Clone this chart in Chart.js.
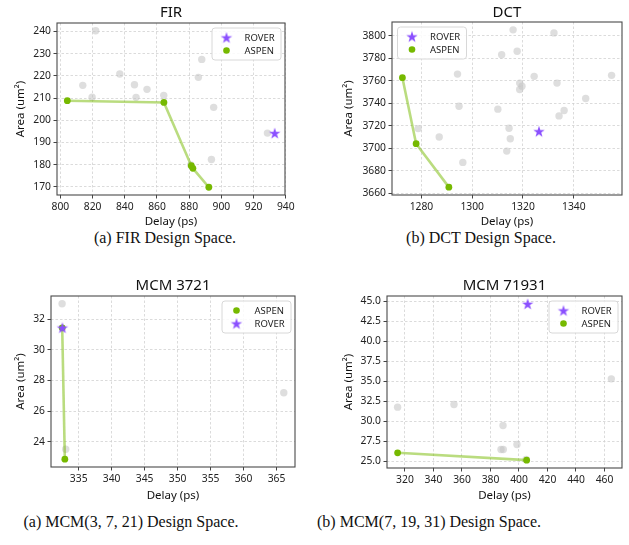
<!DOCTYPE html>
<html>
<head>
<meta charset="utf-8">
<script src="https://cdn.jsdelivr.net/npm/chart.js@4.4.0/dist/chart.umd.min.js"></script>
<style>
  body { margin: 0; background: #fff; width: 629px; height: 545px; position: relative; overflow: hidden; }
  canvas { position: absolute; }
  .cap { position: absolute; font-family: "Liberation Serif", "Times New Roman", serif; font-size: 16px; color: #111;
         white-space: nowrap; transform: translate(-50%, -50%); }
</style>
</head>
<body>
<div class="cap" style="left:165px;top:238px">(a) FIR Design Space.</div>
<div class="cap" style="left:481px;top:238px">(b) DCT Design Space.</div>
<div class="cap" style="left:131px;top:522px">(a) MCM(3, 7, 21) Design Space.</div>
<div class="cap" style="left:429px;top:522px">(b) MCM(7, 19, 31) Design Space.</div>
<script>
// valeurs : [delay, area]
const firOthers = [[821.9, 240.3], [813.9, 215.7], [819.7, 210.4], [836.9, 220.8], [846.0, 216.0], [847.0, 210.3],
  [853.8, 213.9], [864.2, 211.2], [881.0, 179.8], [885.7, 219.3], [887.8, 227.4], [895.2, 205.8], [893.8, 182.3], [928.6, 194.2]];
const firAspen = [[804.3, 208.8], [864.3, 208.0], [881.3, 179.5], [882.3, 178.3], [892.2, 169.8]];
const firRover = [[933.1, 194.2]];
const firXTicks = [800, 820, 840, 860, 880, 900, 920, 940];
const firYTicks = [170, 180, 190, 200, 210, 220, 230, 240];

const dctOthers = [[1316.1, 3805.4], [1332.2, 3802.7], [1311.6, 3783.3], [1317.7, 3786.3], [1294.2, 3766.0], [1324.4, 3764.0],
  [1354.9, 3764.9], [1318.7, 3758.0], [1319.6, 3755.3], [1318.7, 3752.3], [1333.4, 3758.0], [1344.7, 3744.3],
  [1294.8, 3737.4], [1310.1, 3734.8], [1336.2, 3733.6], [1334.2, 3728.8], [1278.7, 3717.5], [1314.5, 3717.8],
  [1287.0, 3710.0], [1315.0, 3708.5], [1313.6, 3697.5], [1296.3, 3687.4]];
const dctAspen = [[1272.5, 3762.8], [1277.9, 3704.1], [1290.8, 3665.4]];
const dctRover = [[1326.3, 3715.1]];
const dctXTicks = [1280, 1300, 1320, 1340];
const dctYTicks = [3660, 3680, 3700, 3720, 3740, 3760, 3780, 3800];

const mcmAOthers = [[332.48, 33.02], [333.03, 23.5], [366.1, 27.2]];
const mcmAAspen = [[332.5, 31.45], [332.9, 22.85]];
const mcmARover = [[332.53, 31.46]];
const mcmAXTicks = [335, 340, 345, 350, 355, 360, 365];
const mcmAYTicks = [24, 26, 28, 30, 32];

const mcmBOthers = [[314.85, 31.75], [354.4, 32.08], [388.8, 29.46], [387.4, 26.46], [389.0, 26.46], [398.6, 27.08],
  [464.8, 35.29], [405.0, 25.2]];
const mcmBAspen = [[314.85, 26.04], [405.4, 25.12]];
const mcmBRover = [[406.1, 44.67]];
const mcmBXTicks = [320, 340, 360, 380, 400, 420, 440, 460];
const mcmBYTicks = [25, 27.5, 30, 32.5, 35, 37.5, 40, 42.5, 45];

const sans = '"Noto Sans", "DejaVu Sans", sans-serif';
const vert = '#76b900';
const vertLigne = 'rgba(118, 185, 0, 0.5)';
const violet = '#8b50ff';
const gris = 'rgba(195, 195, 195, 0.55)';

// étoile pleine (le "star" de Chart.js n'est pas plein)
const etoile = (function () {
  const c = document.createElement('canvas');
  c.width = 14; c.height = 14;
  const g = c.getContext('2d');
  g.fillStyle = violet;
  g.beginPath();
  for (let i = 0; i < 10; i++) {
    const r = i % 2 ? 2.3 : 6;
    const a = -Math.PI / 2 + i * Math.PI / 5;
    g.lineTo(7 + r * Math.cos(a), 7.6 + r * Math.sin(a));
  }
  g.closePath();
  g.fill();
  return c;
})();

// cadre, titres et légende dessinés à la main
const deco = {
  id: 'deco',
  afterDraw(chart, args, o) {
    const { ctx, chartArea: a } = chart;
    ctx.save();
    ctx.strokeStyle = '#4a4a4a';
    ctx.lineWidth = 1.1;
    ctx.strokeRect(a.left, a.top, a.right - a.left, a.bottom - a.top);

    ctx.fillStyle = '#111';
    ctx.textAlign = 'center';
    ctx.textBaseline = 'middle';
    ctx.font = '15px ' + sans;
    ctx.fillText(o.title, (a.left + a.right) / 2, o.titleY);
    ctx.font = '11.5px ' + sans;
    ctx.fillText('Delay (ps)', (a.left + a.right) / 2, o.xTitleY);
    ctx.save();
    ctx.translate(o.yTitleX, (a.top + a.bottom) / 2);
    ctx.rotate(-Math.PI / 2);
    ctx.fillText('Area (um²)', 0, 0);
    ctx.restore();

    // légende
    const w = 69, h = 32;
    const x0 = o.legendLeft ? a.left + 5 : a.right - 4.5 - w;
    const y0 = a.top + 4.5;
    ctx.fillStyle = 'rgba(255,255,255,0.85)';
    ctx.strokeStyle = '#d8d8d8';
    ctx.lineWidth = 1;
    ctx.beginPath();
    ctx.roundRect(x0 + 0.5, y0 + 0.5, w, h, 3);
    ctx.fill();
    ctx.stroke();
    ctx.font = '9.5px ' + sans;
    ctx.textAlign = 'left';
    o.legend.forEach(function (nom, i) {
      const yy = y0 + 10 + i * 13;
      if (nom === 'ROVER') {
        ctx.drawImage(etoile, x0 + 15 - 7, yy - 7);
      } else {
        ctx.fillStyle = vert;
        ctx.beginPath();
        ctx.arc(x0 + 15, yy, 3.3, 0, Math.PI * 2);
        ctx.fill();
      }
      ctx.fillStyle = '#222';
      ctx.fillText(nom, x0 + 33, yy + 0.5);
    });
    ctx.restore();
  }
};

function pts(arr) {
  return arr.map(function (p) { return { x: p[0], y: p[1] }; });
}

function axe(min, max, ticks, fmt, fit) {
  return {
    type: 'linear', min: min, max: max,
    afterFit: fit,
    afterBuildTicks: function (s) { s.ticks = ticks.map(function (v) { return { value: v }; }); },
    ticks: {
      autoSkip: false, maxRotation: 0, padding: 2.5, color: '#222',
      font: { family: sans, size: 10.3 },
      callback: function (v) { return fmt ? v.toFixed(1) : v; }
    },
    grid: { color: '#d2d2d2', lineWidth: 0.8, tickLength: 3.5, tickColor: '#444', tickWidth: 1, tickBorderDash: [] },
    border: { display: false, dash: [2.5, 2] }
  };
}

function panneau(p) {
  const cv = document.createElement('canvas');
  cv.width = p.w; cv.height = p.h;
  cv.style.left = p.x + 'px';
  cv.style.top = p.y + 'px';
  document.body.appendChild(cv);
  const yW = p.area[0] - p.x;
  const xH = p.y + p.h - p.area[3];
  new Chart(cv, {
    type: 'scatter',
    data: {
      datasets: [
        { label: 'ROVER', data: pts(p.rover), pointStyle: etoile, pointRadius: 6, order: 0 },
        { label: 'ASPEN', data: pts(p.aspen), showLine: true, borderColor: vertLigne, borderWidth: 2.6,
          pointBackgroundColor: vert, pointBorderColor: vert, pointBorderWidth: 0, pointRadius: 3.4, order: 1 },
        { label: 'others', data: pts(p.others), pointBackgroundColor: gris, pointBorderWidth: 0, pointRadius: 3.7, order: 2 }
      ]
    },
    options: {
      responsive: false, animation: false, events: [],
      layout: { padding: { left: 0, top: p.area[1] - p.y, right: p.x + p.w - p.area[2], bottom: 0 } },
      plugins: {
        legend: { display: false }, tooltip: { enabled: false },
        // positions de page -> positions dans le canvas
        deco: { title: p.title, titleY: p.titleY - p.y, xTitleY: p.xTitleY - p.y, yTitleX: p.yTitleX - p.x,
                legend: p.legend, legendLeft: p.legendLeft }
      },
      scales: {
        x: axe(p.xr[0], p.xr[1], p.xTicks, false, function (s) { s.height = xH; }),
        y: axe(p.yr[0], p.yr[1], p.yTicks, p.yFmt, function (s) { s.width = yW; })
      }
    },
    plugins: [deco]
  });
}

panneau({ title: 'FIR', x: 0, y: 0, w: 310, h: 232, area: [57, 23, 285, 195], titleY: 13, xTitleY: 222, yTitleX: 21,
  xr: [797.9, 939.5], yr: [166.3, 243.8], xTicks: firXTicks, yTicks: firYTicks,
  others: firOthers, aspen: firAspen, rover: firRover, legend: ['ROVER', 'ASPEN'] });

panneau({ title: 'DCT', x: 318, y: 0, w: 311, h: 232, area: [392, 22, 623, 195], titleY: 13, xTitleY: 222, yTitleX: 349,
  xr: [1268.4, 1359.0], yr: [3658.4, 3812.4], xTicks: dctXTicks, yTicks: dctYTicks,
  others: dctOthers, aspen: dctAspen, rover: dctRover, legend: ['ROVER', 'ASPEN'], legendLeft: true });

panneau({ title: 'MCM 3721', x: 0, y: 262, w: 310, h: 245, area: [51, 296, 295, 467], titleY: 286, xTitleY: 496, yTitleX: 21,
  xr: [330.8, 367.8], yr: [22.34, 33.53], xTicks: mcmAXTicks, yTicks: mcmAYTicks,
  others: mcmAOthers, aspen: mcmAAspen, rover: mcmARover, legend: ['ASPEN', 'ROVER'] });

panneau({ title: 'MCM 71931', x: 318, y: 262, w: 311, h: 245, area: [387, 296, 622, 468], titleY: 286, xTitleY: 496, yTitleX: 349,
  xr: [307.4, 472.3], yr: [24.14, 45.65], xTicks: mcmBXTicks, yTicks: mcmBYTicks, yFmt: true,
  others: mcmBOthers, aspen: mcmBAspen, rover: mcmBRover, legend: ['ROVER', 'ASPEN'] });
</script>
</body>
</html>
